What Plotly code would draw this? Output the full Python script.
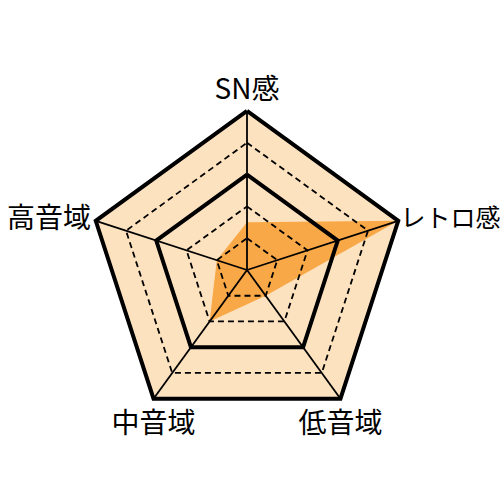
import plotly.graph_objects as go

# axes, clockwise from the top
categories = ["SN感", "レトロ感", "低音域", "中音域", "高音域"]
values = [1.5, 5, 1, 2, 1]

# grid rings: level and whether drawn as thick solid line
ring_levels = [1, 2, 3, 4, 5]
ring_solid = [False, False, True, False, True]

label_pos = ["top center", "middle right", "bottom center", "bottom center", "middle left"]
label_size = [28, 25, 28, 28, 28]
label_gap = [6, 2, 20, 20, 6]

BG = "#FDE2BF"
FILL = "#F9A847"

closed = categories + categories[:1]
r_max = ring_levels[-1]

fig = go.Figure()

# pentagon background (drawn as a trace so the thick outer line isn't clipped)
fig.add_trace(go.Scatterpolar(
    r=[r_max] * len(closed), theta=closed, mode="lines", fill="toself",
    fillcolor=BG, line=dict(width=0, color=BG), hoverinfo="skip"))

# data area
fig.add_trace(go.Scatterpolar(
    r=values + values[:1], theta=closed,
    mode="lines", fill="toself", fillcolor=FILL,
    line=dict(width=0, color=FILL), hoverinfo="skip"))

# spokes
for c in categories:
    fig.add_trace(go.Scatterpolar(
        r=[0, r_max], theta=[c, c], mode="lines",
        line=dict(color="black", width=1.8), hoverinfo="skip"))

# rings
for lvl, solid in zip(ring_levels, ring_solid):
    fig.add_trace(go.Scatterpolar(
        r=[lvl] * len(closed), theta=closed, mode="lines",
        line=dict(color="black", width=4 if solid else 1.8,
                  dash="solid" if solid else "6px,4px"),
        hoverinfo="skip"))

# axis labels
fig.add_trace(go.Scatterpolar(
    r=[r_max] * len(categories), theta=categories,
    mode="markers+text", text=categories, textposition=label_pos,
    marker=dict(size=label_gap, opacity=0),
    textfont=dict(family="Noto Sans CJK JP", size=label_size, color="black"),
    cliponaxis=False, hoverinfo="skip"))

fig.update_layout(
    width=500, height=500,
    margin=dict(l=0, r=0, t=0, b=0),
    paper_bgcolor="white",
    showlegend=False,
    polar=dict(
        domain=dict(x=[0.1664, 0.8216], y=[0.1324, 0.7876]),
        gridshape="linear",
        bgcolor="rgba(0,0,0,0)",
        radialaxis=dict(range=[0, 5.15], visible=False, showgrid=False),
        angularaxis=dict(direction="clockwise", rotation=90,
                         showgrid=False, showline=False,
                         showticklabels=False, ticks=""),
    ),
)

fig.write_html("out.html", config={"displayModeBar": False},
               post_script="document.body.style.margin='0';")
